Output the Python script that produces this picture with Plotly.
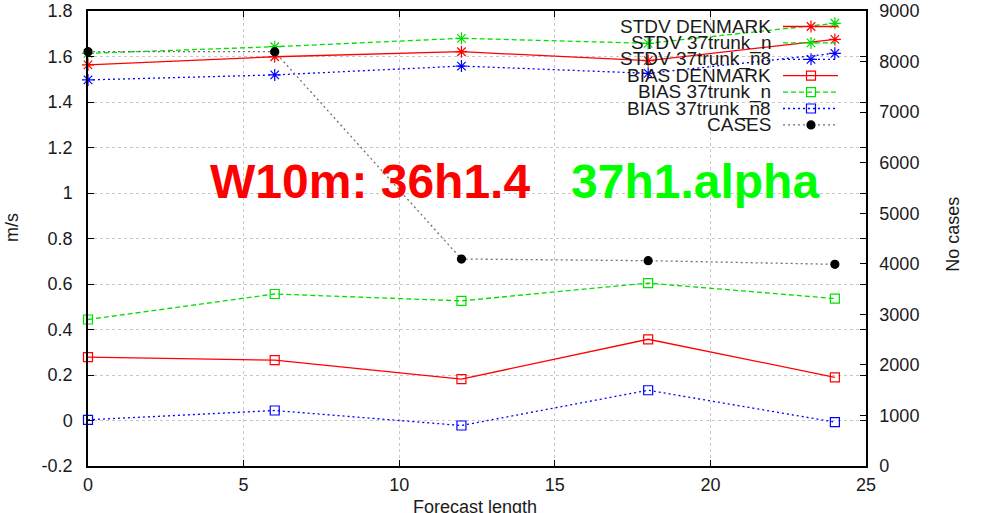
import plotly.graph_objects as go

# ---- data ----
forecast = [0, 6, 12, 18, 24]
stdv_denmark = [1.563, 1.599, 1.621, 1.582, 1.675]
stdv_37n = [1.614, 1.643, 1.680, 1.658, 1.746]
stdv_37n8 = [1.497, 1.519, 1.558, 1.526, 1.614]
bias_denmark = [0.279, 0.265, 0.182, 0.357, 0.190]
bias_37n = [0.444, 0.556, 0.526, 0.604, 0.536]
bias_37n8 = [0.003, 0.044, -0.022, 0.133, -0.007]
cases = [8195, 8195, 4094, 4061, 3989]

x_ticks = [0, 5, 10, 15, 20, 25]
y_ticks = [-0.2, 0, 0.2, 0.4, 0.6, 0.8, 1.0, 1.2, 1.4, 1.6, 1.8]
y_ticktext = ["-0.2", "0", "0.2", "0.4", "0.6", "0.8", "1", "1.2", "1.4", "1.6", "1.8"]
y2_ticks = [0, 1000, 2000, 3000, 4000, 5000, 6000, 7000, 8000, 9000]
y2_ticktext = [str(v) for v in y2_ticks]

legend_names = ["STDV DENMARK", "STDV 37trunk_n", "STDV 37trunk_n8",
                "BIAS DENMARK", "BIAS 37trunk_n", "BIAS 37trunk_n8", "CASES"]

RED, GREEN, BLUE = "#ff0000", "#00e000", "#0000ff"
FONT = "Liberation Sans"
TXT = "#1a1a1a"

series = [
    (stdv_denmark, RED, "solid", "asterisk-open", "y"),
    (stdv_37n, GREEN, "dash", "asterisk-open", "y"),
    (stdv_37n8, BLUE, "dot", "asterisk-open", "y"),
    (bias_denmark, RED, "solid", "square-open", "y"),
    (bias_37n, GREEN, "dash", "square-open", "y"),
    (bias_37n8, BLUE, "dot", "square-open", "y"),
    (cases, "#707070", "dot", "circle", "y2"),
]
DASHES = {"solid": "solid", "dash": "5px,3px", "dot": "2px,3px"}


def marker_for(col, sym):
    is_case = sym == "circle"
    return dict(symbol=sym, size=8 if is_case else (10 if sym.startswith("asterisk") else 9),
                color="black" if is_case else col,
                line=dict(color="black" if is_case else col, width=1.2))


fig = go.Figure()
for (vals, col, dash, sym, yax), name in zip(series, legend_names):
    fig.add_trace(go.Scatter(
        x=forecast, y=vals, yaxis=yax, mode="lines+markers", name=name,
        line=dict(color=col, width=1.3, dash=DASHES[dash]),
        marker=marker_for(col, sym), cliponaxis=False, showlegend=False,
    ))

# ---- custom gnuplot-style key (on a hidden pixel-scaled overlay axis) ----
KEY_TEXT_RIGHT = 773
KEY_X0, KEY_X1, KEY_XM = 783, 838, 811
KEY_Y0, KEY_DY = 26.5, 16.4
for i, ((vals, col, dash, sym, yax), name) in enumerate(zip(series, legend_names)):
    ky = KEY_Y0 + i * KEY_DY
    fig.add_trace(go.Scatter(
        x=[KEY_X0, KEY_X1], y=[ky, ky], xaxis="x3", yaxis="y3", mode="lines",
        line=dict(color=col, width=1.3, dash=DASHES[dash]), showlegend=False, hoverinfo="skip"))
    fig.add_trace(go.Scatter(
        x=[KEY_XM], y=[ky], xaxis="x3", yaxis="y3", mode="markers",
        marker=marker_for(col, sym), showlegend=False, hoverinfo="skip", cliponaxis=False))
    fig.add_annotation(x=KEY_TEXT_RIGHT, y=ky, xref="x3", yref="y3", text=name,
                       showarrow=False, xanchor="right", yanchor="middle",
                       font=dict(family=FONT, size=19, color=TXT))

# big labels
fig.add_annotation(x=370, y=181, xref="x3", yref="y3", text="<b>W10m: 36h1.4</b>",
                   showarrow=False, font=dict(family=FONT, size=48, color=RED))
fig.add_annotation(x=695, y=181, xref="x3", yref="y3", text="<b>37h1.alpha</b>",
                   showarrow=False, font=dict(family=FONT, size=48, color="#00ff00"))

# axis titles (paper coords so they are drawn outside the plot area)
fig.add_annotation(x=0, y=0.523, xref="paper", yref="paper", xshift=-76, text="m/s",
                   xanchor="center", yanchor="middle",
                   textangle=-90, showarrow=False, font=dict(family=FONT, size=18, color=TXT))
fig.add_annotation(x=1, y=0.508, xref="paper", yref="paper", xshift=87, text="No cases",
                   xanchor="center", yanchor="middle",
                   textangle=-90, showarrow=False, font=dict(family=FONT, size=18, color=TXT))
fig.add_annotation(x=0.497, y=0, xref="paper", yref="paper", yshift=-41,
                   xanchor="center", yanchor="middle",
                   text="Forecast length", showarrow=False,
                   font=dict(family=FONT, size=18, color=TXT))

axis_common = dict(ticks="inside", ticklen=6, tickwidth=1.2, tickcolor="black",
                   showline=True, linecolor="black", linewidth=1.5, zeroline=False,
                   automargin=False, tickfont=dict(family=FONT, size=18, color=TXT))
GRID = dict(showgrid=True, gridcolor="#c8c8c8", griddash="dot", gridwidth=1)
fig.update_layout(
    width=984, height=513,
    margin=dict(l=88, r=118, t=11, b=47),
    paper_bgcolor="white", plot_bgcolor="white",
    xaxis=dict(range=[0, 25], tickvals=x_ticks, mirror="ticks", ticklabelstandoff=2,
               **GRID, **axis_common),
    yaxis=dict(range=[-0.2, 1.8], tickvals=y_ticks, ticktext=y_ticktext, mirror="ticks",
               ticklabelstandoff=10, **GRID, **axis_common),
    yaxis2=dict(range=[0, 9000], tickvals=y2_ticks, ticktext=y2_ticktext, overlaying="y",
                side="right", showgrid=False, ticklabelstandoff=8, **axis_common),
    xaxis3=dict(range=[88, 866], overlaying="x", anchor="y3", visible=False, fixedrange=True),
    yaxis3=dict(range=[466, 11], overlaying="y", anchor="x3", visible=False, fixedrange=True),
    showlegend=False,
)

fig.write_html("out.html")
